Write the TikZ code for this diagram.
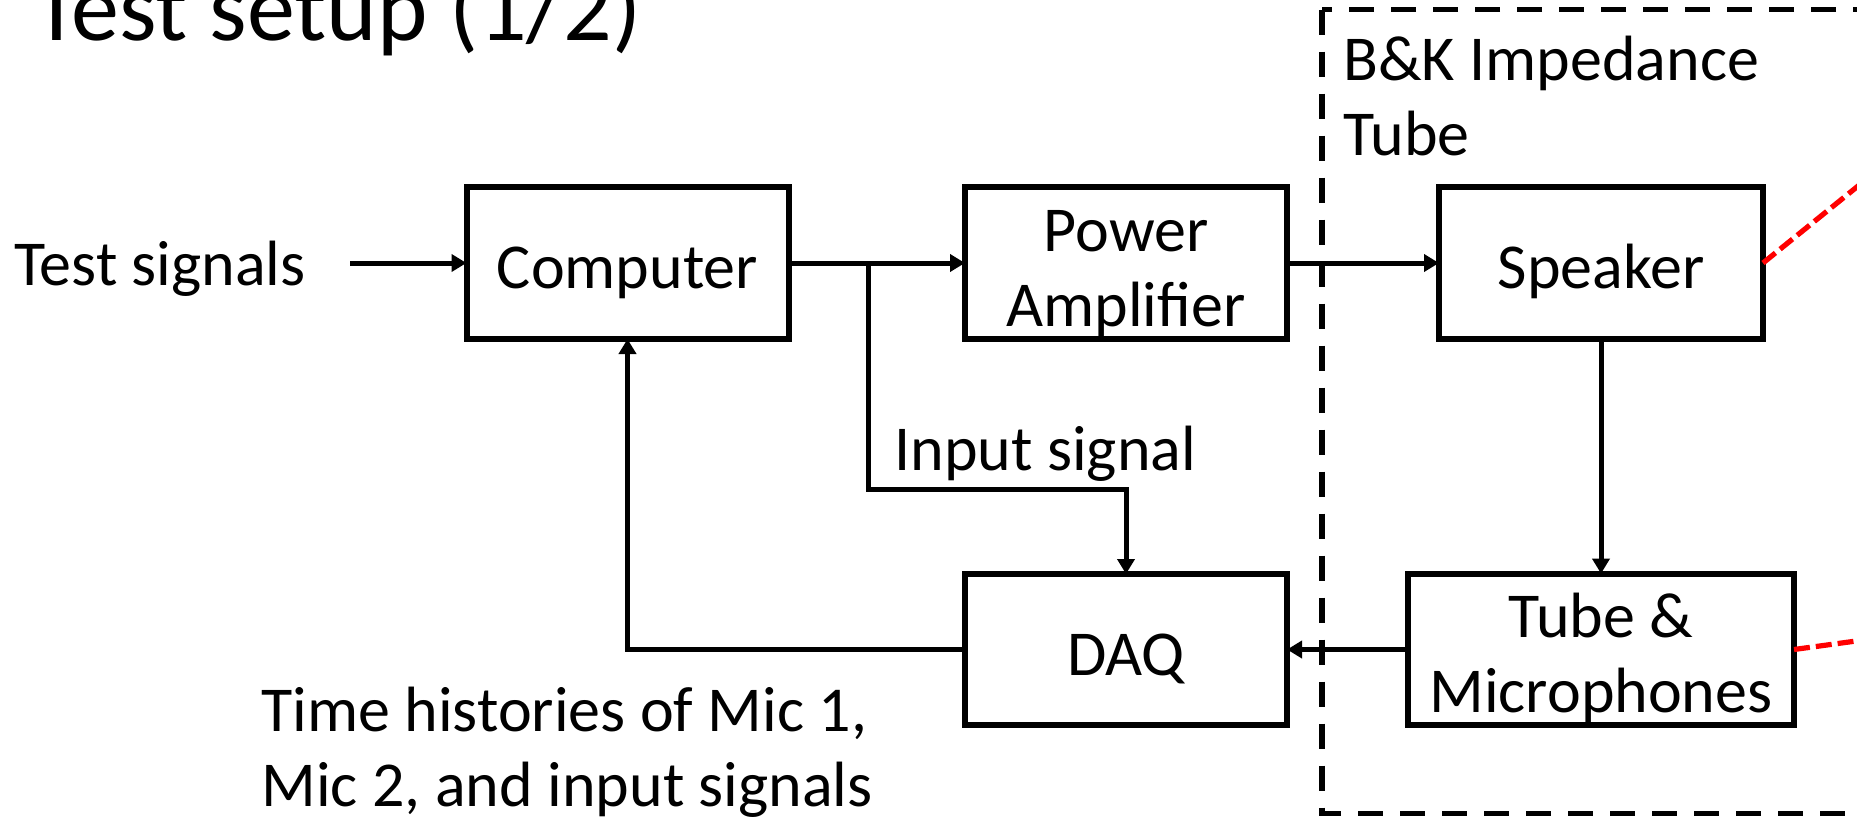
\documentclass[tikz,border=0pt]{standalone}
\usepackage{fontspec}
\setmainfont{Carlito}
\usetikzlibrary{positioning, arrows.meta}
\tikzset{
  block/.style={draw, line width=3pt, outer sep=0pt, inner sep=0pt, minimum width=161pt, minimum height=76pt, font=\fontsize{32}{37.5}\selectfont, text height=32pt, text depth=6.4pt},
  block2/.style={block, align=flush center, text width=150pt, text depth=43.9pt},
  lbl/.style={inner sep=0pt, font=\fontsize{32}{37.5}\selectfont},
  arr/.style={-{Triangle[length=7.5pt, width=8.5pt]}, line width=2.5pt},
  tubeframe/.style={line width=2.8pt, dash pattern=on 12.5pt off 8.5pt},
  redlink/.style={red, line width=2.6pt, dash pattern=on 8pt off 3pt}
}
\begin{document}
\begin{tikzpicture}[x=0.5pt, y=-0.5pt]
\useasboundingbox (0,0) rectangle (1857,819);
\clip (0,0) rectangle (1857,819);
\node[anchor=base west, inner sep=0pt, font=\fontsize{48}{56}\selectfont] (title) at (33,40) {Test setup (1/2)};
% signal chain
\node[block] (comp) at (627.5,263) {Computer};
\node[block2, right=88.25pt of comp] (pamp) {Power\\Amplifier};
\node[block, right=76pt of pamp, minimum width=162pt] (spk) {Speaker};
\node[block, below=117.5pt of pamp, minimum height=75.5pt] (daq) {DAQ};
\node[block2, right=60.5pt of daq, minimum width=193pt, minimum height=75.5pt, text width=182pt] (tube) {Tube \&\\Microphones};
% labels
\node[lbl, anchor=base west] (tsig) at (14,285) {Test signals};
\node[lbl, anchor=base west] (insig) at (894,470) {Input signal};
\node[lbl, anchor=base west, align=flush left, text width=350pt] (hist) at (261,731) {Time histories of Mic 1,\\Mic 2, and input signals};
\node[lbl, anchor=base west, align=flush left, text width=230pt] (bk) at (1343,80) {B\&K Impedance\\Tube};
% impedance tube boundary
\draw[tubeframe] (1322,9.5) rectangle (1930,813.5);
\coordinate (split) at (868,263);
\coordinate (inbend) at (868,489);
\coordinate (spkout) at (1900,152);
\coordinate (tubeout) at (1900,635);
\draw[arr] (tsig.east |- comp.west) [shorten <=22pt] -- (comp.west);
\draw[arr] (comp.east) -- (pamp.west);
\draw[arr] (pamp.east) -- (spk.west);
\draw[arr] (spk.south) -- (tube.north);
\draw[arr] (tube.west) -- (daq.east);
\draw[arr] (daq.west) -| (comp.south);
\draw[arr] (split) -- (inbend) -| (daq.north);
\draw[redlink] (spk.east) -- (spkout);
\draw[redlink] (tube.east) -- (tubeout);
\end{tikzpicture}
\end{document}
